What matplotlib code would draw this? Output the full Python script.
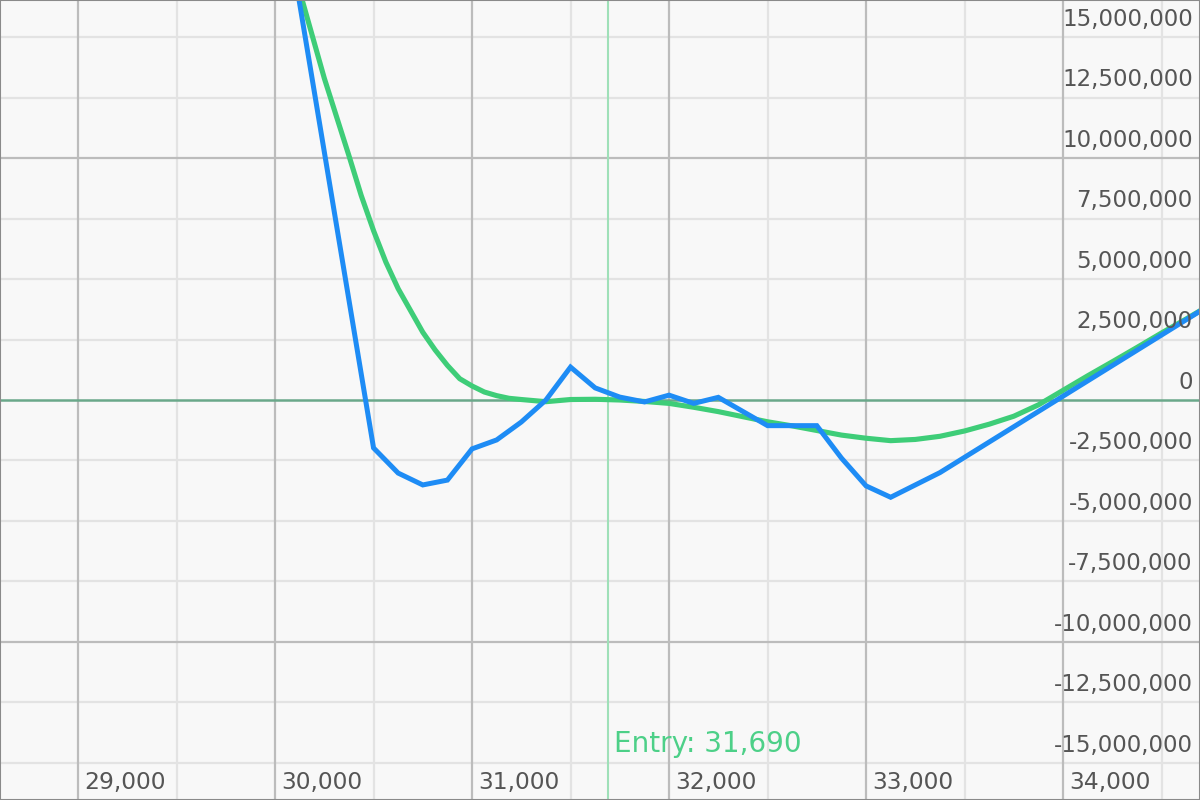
import matplotlib
matplotlib.use("Agg")
import matplotlib.pyplot as plt
import matplotlib.transforms as mtransforms

# ---- data ----
price_blue = [30000, 30500, 30625, 30750, 30875, 31000, 31125, 31250, 31375, 31500,
              31625, 31750, 31875, 32000, 32125, 32250, 32500, 32750, 32875, 33000,
              33125, 33375, 34750]
pnl_blue = [22.5e6, -1.98e6, -3.02e6, -3.51e6, -3.31e6, -2.02e6, -1.65e6, -0.91e6, 0.0e6, 1.36e6,
            0.50e6, 0.12e6, -0.08e6, 0.20e6, -0.14e6, 0.11e6, -1.06e6, -1.06e6, -2.40e6, -3.55e6,
            -4.02e6, -3.0e6, 3.95e6]

price_green = [30000, 30125, 30187.5, 30250, 30312.5, 30375, 30437.5, 30500, 30562.5, 30625,
               30687.5, 30750, 30812.5, 30875, 30937.5, 31000, 31062.5, 31125, 31187.5,
               31250, 31375, 31500, 31625, 31750, 31875, 32000, 32125, 32250, 32375,
               32500, 32625, 32750, 32875, 33000, 33125, 33250, 33375, 33500, 33625,
               33750, 33875, 34000, 34125, 34250, 34375, 34500, 34625, 34750]
pnl_green = [21.0e6, 16.9e6, 15.1e6, 13.3e6, 11.7e6, 10.1e6, 8.45e6, 7.0e6, 5.7e6, 4.6e6,
             3.7e6, 2.8e6, 2.07e6, 1.43e6, 0.88e6, 0.58e6, 0.33e6, 0.18e6, 0.07e6,
             0.02e6, -0.07e6, 0.02e6, 0.03e6, 0.0e6, -0.06e6, -0.14e6, -0.30e6, -0.48e6, -0.69e6,
             -0.90e6, -1.07e6, -1.26e6, -1.45e6, -1.58e6, -1.68e6, -1.63e6, -1.50e6, -1.28e6, -1.00e6,
             -0.67e6, -0.20e6, 0.40e6, 1.00e6, 1.58e6, 2.17e6, 2.77e6, 3.35e6, 3.95e6]

entry_price = 31690
entry_label = "Entry: 31,690"

x_major = [29000, 30000, 31000, 32000, 33000, 34000]
x_minor = [28500, 29500, 30500, 31500, 32500, 33500, 34500]
x_labels = ["29,000", "30,000", "31,000", "32,000", "33,000", "34,000"]

y_ticks = [15e6, 12.5e6, 10e6, 7.5e6, 5e6, 2.5e6, 0, -2.5e6, -5e6, -7.5e6, -10e6, -12.5e6, -15e6]
y_labels = ["15,000,000", "12,500,000", "10,000,000", "7,500,000", "5,000,000", "2,500,000", "0",
            "-2,500,000", "-5,000,000", "-7,500,000", "-10,000,000", "-12,500,000", "-15,000,000"]
y_major = [-10e6, 10e6]

# ---- figure ----
fig = plt.figure(figsize=(12, 8), dpi=100)
ax = fig.add_axes([0, 0, 1, 1])
ax.set_facecolor("#f8f8f8")
fig.patch.set_facecolor("#f8f8f8")
ax.set_xlim(28604, 34695)
ax.set_ylim(-16.53e6, 16.53e6)

# grid
for xv in x_minor:
    ax.axvline(xv, color="#e3e3e3", lw=1.6, zorder=0)
for yv in y_ticks:
    if yv == 0 or yv in y_major:
        continue
    ax.axhline(yv, color="#e3e3e3", lw=1.6, zorder=0)
for xv in x_major:
    ax.axvline(xv, color="#bcbcbc", lw=1.6, zorder=0.5)
for yv in y_major:
    ax.axhline(yv, color="#bcbcbc", lw=1.6, zorder=0.5)
ax.axhline(0, color="#6aa88a", lw=1.8, zorder=1)

# entry line
ax.axvline(entry_price, color="#9fe0b8", lw=1.5, zorder=1)
ax.text(entry_price + 30, -14.2e6, entry_label, color="#4dd088", fontsize=20,
        ha="left", va="center", zorder=3)

# curves
ax.plot(price_green, pnl_green, color="#3ecd78", lw=3.7, zorder=2, solid_joinstyle="round")
ax.plot(price_blue, pnl_blue, color="#1e8cf5", lw=3.6, zorder=2.5, solid_joinstyle="miter")

ax.set_xticks([])
ax.set_yticks([])
for s in ax.spines.values():
    s.set_color("#8a8a8a")
    s.set_linewidth(1.5)

# tick labels inside the plot
trans_x = mtransforms.blended_transform_factory(ax.transData, ax.transAxes)
for xv, lab in zip(x_major, x_labels):
    ax.text(xv + 32, 0.008, lab, transform=trans_x, ha="left", va="bottom",
            fontsize=16.8, color="#555555", zorder=3)
trans_y = mtransforms.blended_transform_factory(ax.transAxes, ax.transData)
for yv, lab in zip(y_ticks, y_labels):
    ax.text(0.994, yv + 0.25e6, lab, transform=trans_y, ha="right", va="bottom",
            fontsize=16.5, color="#555555", zorder=3)

fig.savefig("out.png", dpi=100, facecolor=fig.get_facecolor())
